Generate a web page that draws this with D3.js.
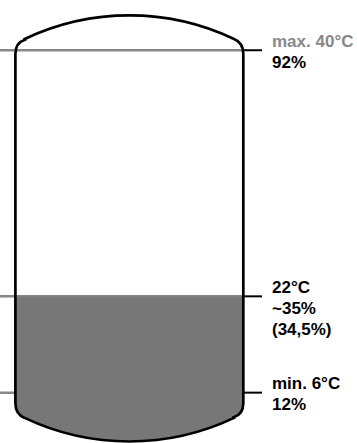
<!DOCTYPE html>
<html>
<head>
<meta charset="utf-8">
<script src="https://cdn.jsdelivr.net/npm/d3@7"></script>
<style>
  html, body { margin: 0; padding: 0; background: #fff; }
  svg { display: block; }
  text { font-family: "Liberation Sans", Arial, Helvetica, sans-serif; font-weight: bold; font-size: 17px; }
</style>
</head>
<body>
<script>
// ---- data ----
const levels = [92, 34.5, 12];            // percent fill levels
const levelLabels = [
  ["max. 40°C", "92%"],
  ["22°C", "~35%", "(34,5%)"],
  ["min. 6°C", "12%"]
];
const labelColors = [["#888888", "#000000"], ["#000", "#000", "#000"], ["#000", "#000"]];
const currentLevel = 34.5;                // filled level in percent

// ---- layout ----
const W = 357, H = 443;
const xL = 15.4, xR = 243.3;
const y = d3.scaleLinear().domain([0, 100]).range([444, 16]);
const topApex = 15.4, botApex = 441.5;
const R = 244;
const domeX = 25, domeDy = 24.3;       // where the dome arc meets the knuckle
const knuckle = 14;                     // wall end distance from dome end

const svg = d3.select("body").append("svg").attr("width", W).attr("height", H);

// tank outline path
function tankPath() {
  const p = d3.path();
  const cx = (xL + xR) / 2;
  const dTop = topApex + domeDy, dBot = botApex - domeDy;
  const wTop = dTop + knuckle, wBot = dBot - knuckle;
  const dxL = cx - (cx - domeX), dxR = cx + (cx - domeX);
  p.moveTo(xL, wBot);
  p.lineTo(xL, wTop);
  p.quadraticCurveTo(xL, dTop + 3, dxL, dTop);
  // top arc (circle through dome ends and apex)
  const halfC = cx - dxL;
  const cyTop = topApex + R;
  const a0 = Math.atan2(dTop - cyTop, dxL - cx);
  const a1 = Math.atan2(dTop - cyTop, dxR - cx);
  p.arc(cx, cyTop, R, a0, a1, false);
  p.quadraticCurveTo(xR, dTop + 3, xR, wTop);
  p.lineTo(xR, wBot);
  p.quadraticCurveTo(xR, dBot - 3, dxR, dBot);
  const cyBot = botApex - R;
  const b0 = Math.atan2(dBot - cyBot, dxR - cx);
  const b1 = Math.atan2(dBot - cyBot, dxL - cx);
  p.arc(cx, cyBot, R, b0, b1, false);
  p.quadraticCurveTo(xL, dBot - 3, xL, wBot);
  p.closePath();
  return p.toString();
}
const tp = tankPath();

svg.append("clipPath").attr("id", "tankClip")
  .append("path").attr("d", tp);

// gray reference lines (under fill)
svg.selectAll("line.ref").data(levels).enter().append("line")
  .attr("class", "ref")
  .attr("x1", 0).attr("x2", xR)
  .attr("y1", d => y(d)).attr("y2", d => y(d))
  .attr("stroke", "#888888").attr("stroke-width", 2.5);

// liquid fill
svg.append("rect")
  .attr("clip-path", "url(#tankClip)")
  .attr("x", 0).attr("width", W)
  .attr("y", y(currentLevel))
  .attr("height", H - y(currentLevel))
  .attr("fill", "#777777");

// tank outline
svg.append("path").attr("d", tp)
  .attr("fill", "none").attr("stroke", "#000").attr("stroke-width", 2.7);

// black ticks on right
svg.selectAll("line.tick").data(levels).enter().append("line")
  .attr("class", "tick")
  .attr("x1", xR).attr("x2", 262)
  .attr("y1", d => y(d)).attr("y2", d => y(d))
  .attr("stroke", "#000").attr("stroke-width", 2);

// labels
const g = svg.selectAll("g.lab").data(levels).enter().append("g").attr("class", "lab");
g.each(function(d, i) {
  const t = d3.select(this).append("text")
    .attr("x", 272)
    .attr("y", y(d) - 3.5);
  levelLabels[i].forEach((s, j) => {
    t.append("tspan")
      .attr("x", 272)
      .attr("dy", j === 0 ? 0 : 21)
      .attr("fill", labelColors[i][j])
      .text(s);
  });
});
</script>
</body>
</html>
